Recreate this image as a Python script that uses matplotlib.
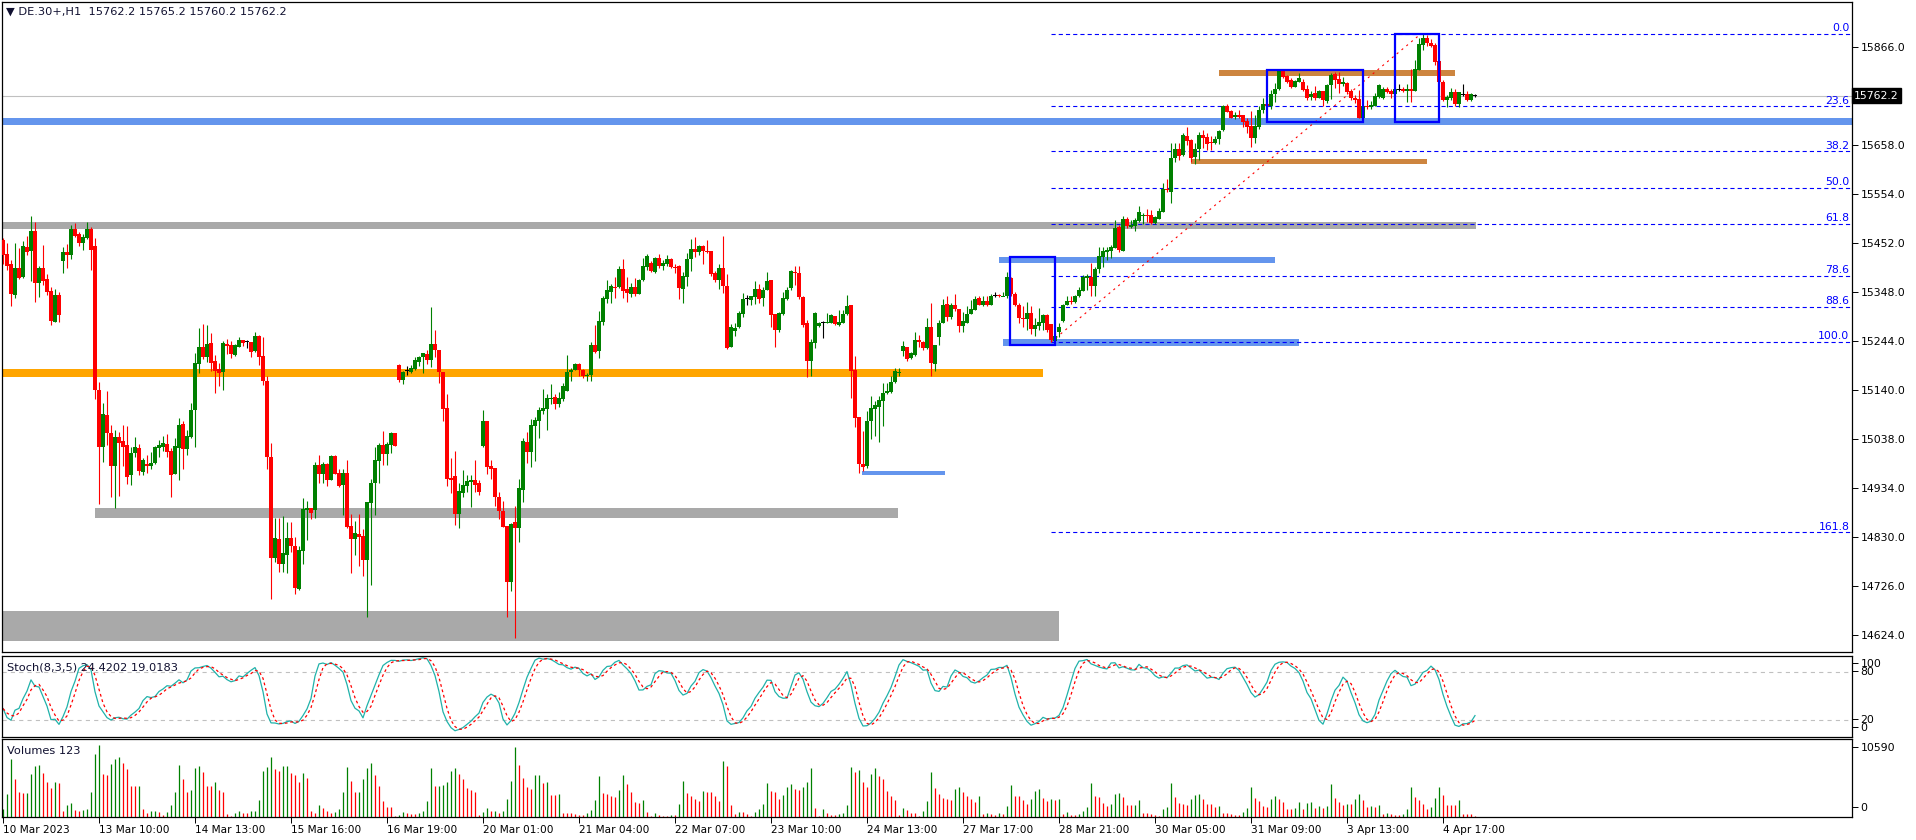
import numpy as np
import pandas as pd
import matplotlib
matplotlib.use("Agg")
import matplotlib.pyplot as plt
from matplotlib.patches import Rectangle
from matplotlib import transforms

plt.rcParams['font.family'] = ['DejaVu Sans']
plt.rcParams['font.size'] = 7.5
plt.rcParams['lines.scale_dashes'] = False

# DE.30+ H1 bars (one entry per hour bar)
opens = [
    15457, 15428, 15407, 15341, 15398, 15379, 15443, 15435, 15476, 15367,
    15398, 15375, 15350, 15285, 15341, 15412, 15432, 15426, 15481, 15470,
    15452, 15462, 15481, 15445, 15140, 15021, 15088, 15050, 14979, 15042,
    15033, 15024, 14960, 15007, 15019, 14968, 14984, 14981, 14986, 15019,
    15021, 15027, 15012, 14963, 15019, 15069, 15016, 15042, 15098, 15196,
    15231, 15211, 15240, 15202, 15185, 15179, 15238, 15236, 15214, 15231,
    15246, 15242, 15242, 15223, 15255, 15212, 15160, 15000, 14786, 14826,
    14772, 14793, 14828, 14811, 14720, 14801, 14887, 14891, 14886, 14982,
    14963, 14984, 14950, 15001, 14965, 14940, 14965, 14853, 14826, 14836,
    14832, 14782, 14902, 14944, 14991, 15024, 15005, 15024, 15050, 15194,
    15162, 15181, 15179, 15185, 15200, 15210, 15217, 15204, 15238, 15225,
    15179, 15102, 14955, 14959, 14879, 14923, 14938, 14946, 14950, 14944,
    15022, 15075, 14980, 14976, 14915, 14885, 14853, 14735, 14862, 14850,
    14930, 15031, 15010, 15065, 15075, 15096, 15100, 15122, 15126, 15111,
    15122, 15138, 15179, 15183, 15195, 15183, 15172, 15172, 15236, 15223,
    15284, 15333, 15348, 15360, 15358, 15396, 15354, 15343, 15358, 15343,
    15373, 15400, 15409, 15390, 15419, 15402, 15407, 15417, 15402, 15402,
    15354, 15379, 15417, 15438, 15432, 15445, 15434, 15434, 15388, 15373,
    15398, 15360, 15232, 15265, 15274, 15301, 15333, 15331, 15337, 15354,
    15335, 15352, 15373, 15302, 15267, 15302, 15332, 15355, 15390, 15388,
    15336, 15281, 15202, 15240, 15276, 15284, 15283, 15283, 15297, 15278,
    15283, 15300, 15320, 15183, 15084, 14985, 14980, 15074, 15100, 15105,
    15117, 15134, 15137, 15158, 15178, 15222, 15232, 15209, 15215, 15246,
    15242, 15230, 15273, 15196, 15253, 15281, 15322, 15295, 15320, 15312,
    15276, 15282, 15300, 15310, 15335, 15320, 15328, 15320, 15341, 15342,
    15338, 15338, 15378, 15343, 15320, 15293, 15291, 15303, 15270, 15276,
    15283, 15299, 15279, 15245, 15262, 15287, 15320, 15329, 15327, 15338,
    15350, 15376, 15380, 15361, 15395, 15422, 15433, 15435, 15440, 15484,
    15435, 15502, 15485, 15486, 15498, 15507, 15510, 15510, 15493, 15502,
    15517, 15566, 15559, 15631, 15650, 15637, 15677, 15668, 15633, 15650,
    15680, 15675, 15665, 15663, 15671, 15690, 15740, 15730, 15718, 15721,
    15721, 15709, 15699, 15673, 15695, 15732, 15744, 15740, 15765, 15776,
    15815, 15804, 15795, 15781, 15792, 15790, 15776, 15760, 15768, 15757,
    15771, 15750, 15785, 15808, 15797, 15787, 15788, 15771, 15758, 15755,
    15716, 15741, 15738, 15740, 15759, 15757, 15776, 15773, 15766, 15776,
    15777, 15773, 15776, 15771, 15816, 15869, 15885, 15874, 15869, 15835,
    15792, 15753, 15757, 15769, 15744, 15764, 15766, 15752, 15762.2]

highs = [
    15462, 15450, 15415, 15450, 15441, 15455, 15466, 15509, 15495, 15402,
    15447, 15386, 15357, 15354, 15348, 15443, 15449, 15490, 15493, 15474,
    15471, 15495, 15484, 15462, 15157, 15114, 15139, 15067, 15055, 15052,
    15067, 15064, 15021, 15041, 15026, 14996, 15003, 15010, 15022, 15035,
    15043, 15048, 15017, 15040, 15081, 15074, 15055, 15114, 15219, 15271,
    15280, 15278, 15260, 15214, 15198, 15245, 15248, 15245, 15238, 15253,
    15246, 15246, 15242, 15263, 15257, 15253, 15169, 15029, 14871, 14871,
    14875, 14862, 14862, 14831, 14812, 14912, 14906, 14891, 14989, 15003,
    14989, 14987, 15003, 15003, 14974, 14974, 14993, 14879, 14864, 14879,
    14847, 14904, 14953, 15021, 15029, 15054, 15031, 15052, 15050, 15195,
    15181, 15191, 15193, 15210, 15213, 15219, 15224, 15316, 15268, 15225,
    15179, 15132, 14996, 15012, 14944, 14972, 14961, 14961, 14993, 14950,
    15098, 15075, 14993, 14976, 14925, 14906, 14853, 14860, 14896, 14953,
    15039, 15052, 15079, 15083, 15105, 15143, 15132, 15153, 15132, 15136,
    15155, 15214, 15187, 15198, 15198, 15185, 15176, 15242, 15278, 15307,
    15339, 15373, 15364, 15379, 15402, 15417, 15379, 15366, 15377, 15375,
    15419, 15428, 15413, 15421, 15428, 15415, 15426, 15419, 15407, 15405,
    15390, 15430, 15459, 15464, 15447, 15447, 15457, 15434, 15392, 15407,
    15466, 15386, 15280, 15282, 15307, 15345, 15341, 15339, 15371, 15364,
    15359, 15390, 15373, 15302, 15306, 15347, 15359, 15393, 15402, 15402,
    15340, 15288, 15248, 15306, 15285, 15287, 15304, 15301, 15297, 15309,
    15309, 15341, 15320, 15212, 15084, 15054, 15096, 15128, 15118, 15128,
    15155, 15155, 15169, 15186, 15186, 15244, 15232, 15221, 15264, 15257,
    15244, 15292, 15324, 15236, 15288, 15332, 15340, 15325, 15343, 15312,
    15306, 15317, 15331, 15338, 15339, 15340, 15339, 15343, 15347, 15343,
    15348, 15390, 15380, 15348, 15325, 15317, 15326, 15317, 15292, 15313,
    15300, 15302, 15279, 15260, 15281, 15322, 15340, 15340, 15342, 15357,
    15383, 15386, 15408, 15401, 15442, 15442, 15442, 15447, 15500, 15489,
    15507, 15505, 15500, 15503, 15529, 15514, 15522, 15521, 15507, 15524,
    15578, 15586, 15662, 15663, 15662, 15683, 15695, 15670, 15662, 15686,
    15690, 15683, 15676, 15677, 15690, 15742, 15745, 15732, 15728, 15732,
    15721, 15714, 15730, 15721, 15740, 15757, 15746, 15774, 15788, 15816,
    15816, 15806, 15799, 15795, 15811, 15797, 15785, 15771, 15783, 15774,
    15773, 15787, 15809, 15813, 15813, 15801, 15792, 15776, 15764, 15774,
    15740, 15753, 15750, 15767, 15787, 15780, 15780, 15776, 15780, 15787,
    15780, 15787, 15818, 15837, 15885, 15893, 15891, 15881, 15873, 15835,
    15795, 15764, 15778, 15776, 15769, 15787, 15771, 15767, 15765.2]

lows = [
    15407, 15393, 15318, 15334, 15375, 15377, 15426, 15371, 15327, 15336,
    15362, 15341, 15278, 15285, 15285, 15388, 15398, 15417, 15464, 15445,
    15436, 15459, 15393, 15121, 14900, 14989, 15024, 14915, 14891, 14917,
    14979, 14942, 14940, 15000, 14961, 14960, 14966, 14973, 14985, 15000,
    15012, 15000, 14915, 14963, 14950, 14974, 15003, 15040, 15021, 15177,
    15205, 15200, 15181, 15135, 15149, 15140, 15217, 15209, 15213, 15231,
    15233, 15230, 15211, 15221, 15194, 15151, 14974, 14699, 14778, 14757,
    14757, 14753, 14799, 14710, 14719, 14772, 14824, 14867, 14871, 14944,
    14944, 14938, 14950, 14963, 14936, 14877, 14850, 14755, 14791, 14769,
    14748, 14662, 14729, 14877, 14944, 14982, 14982, 15008, 15023, 15157,
    15153, 15172, 15177, 15183, 15191, 15176, 15195, 15190, 15211, 15155,
    15074, 14938, 14923, 14855, 14850, 14915, 14925, 14894, 14925, 14919,
    15020, 14963, 14953, 14896, 14869, 14852, 14662, 14715, 14617, 14820,
    14903, 14986, 14977, 14991, 15039, 15090, 15055, 15111, 15100, 15105,
    15117, 15138, 15160, 15183, 15170, 15166, 15160, 15160, 15219, 15209,
    15278, 15324, 15324, 15335, 15356, 15335, 15326, 15337, 15339, 15343,
    15371, 15394, 15390, 15388, 15398, 15394, 15402, 15398, 15388, 15333,
    15324, 15360, 15392, 15421, 15426, 15407, 15430, 15381, 15369, 15354,
    15345, 15227, 15232, 15255, 15271, 15295, 15320, 15320, 15322, 15324,
    15317, 15352, 15274, 15232, 15264, 15299, 15331, 15352, 15362, 15332,
    15274, 15167, 15170, 15230, 15274, 15251, 15281, 15281, 15278, 15276,
    15281, 15298, 15124, 15063, 14966, 14970, 14975, 15037, 15044, 15031,
    15065, 15131, 15135, 15156, 15170, 15213, 15202, 15207, 15213, 15232,
    15225, 15228, 15169, 15181, 15236, 15281, 15287, 15290, 15308, 15264,
    15262, 15282, 15300, 15309, 15319, 15318, 15317, 15319, 15336, 15337,
    15338, 15335, 15338, 15318, 15283, 15274, 15267, 15258, 15255, 15267,
    15267, 15264, 15242, 15243, 15253, 15285, 15320, 15322, 15325, 15336,
    15350, 15352, 15338, 15338, 15388, 15401, 15416, 15419, 15440, 15431,
    15435, 15482, 15483, 15477, 15496, 15491, 15496, 15491, 15491, 15501,
    15517, 15559, 15536, 15621, 15626, 15635, 15658, 15623, 15617, 15626,
    15652, 15647, 15647, 15660, 15660, 15688, 15728, 15714, 15712, 15714,
    15697, 15684, 15654, 15662, 15692, 15725, 15739, 15734, 15748, 15774,
    15799, 15788, 15778, 15780, 15790, 15771, 15754, 15754, 15754, 15757,
    15740, 15746, 15755, 15778, 15767, 15783, 15766, 15753, 15746, 15716,
    15714, 15735, 15735, 15740, 15757, 15755, 15767, 15758, 15766, 15771,
    15769, 15749, 15749, 15771, 15816, 15859, 15867, 15866, 15826, 15788,
    15750, 15738, 15753, 15740, 15739, 15762, 15751, 15750, 15760.2]

closes = [
    15426, 15403, 15343, 15398, 15377, 15445, 15433, 15476, 15367, 15398,
    15371, 15348, 15287, 15341, 15299, 15432, 15426, 15481, 15466, 15452,
    15464, 15481, 15436, 15140, 15021, 15090, 15050, 14979, 15042, 15029,
    15021, 14957, 15008, 15021, 14970, 14993, 14981, 14986, 15021, 15024,
    15028, 15009, 14961, 15022, 15067, 15016, 15043, 15098, 15198, 15231,
    15211, 15238, 15198, 15181, 15177, 15240, 15233, 15217, 15236, 15246,
    15240, 15242, 15221, 15255, 15211, 15160, 14998, 14786, 14828, 14774,
    14796, 14828, 14810, 14723, 14803, 14889, 14891, 14881, 14982, 14963,
    14984, 14950, 15001, 14963, 14938, 14965, 14851, 14826, 14838, 14831,
    14782, 14904, 14944, 14993, 15024, 15005, 15026, 15050, 15023, 15162,
    15179, 15181, 15187, 15204, 15210, 15219, 15204, 15238, 15224, 15179,
    15100, 14953, 14950, 14879, 14927, 14940, 14948, 14950, 14940, 14925,
    15075, 14978, 14974, 14915, 14884, 14852, 14734, 14858, 14850, 14934,
    15033, 15010, 15067, 15077, 15098, 15102, 15124, 15124, 15111, 15124,
    15149, 15179, 15183, 15195, 15183, 15170, 15174, 15236, 15221, 15286,
    15335, 15352, 15360, 15358, 15396, 15350, 15345, 15358, 15343, 15373,
    15402, 15424, 15392, 15419, 15402, 15409, 15417, 15400, 15400, 15356,
    15381, 15417, 15438, 15432, 15445, 15434, 15432, 15386, 15373, 15398,
    15360, 15230, 15274, 15271, 15303, 15333, 15333, 15339, 15354, 15333,
    15352, 15371, 15299, 15267, 15304, 15335, 15352, 15392, 15388, 15336,
    15278, 15202, 15242, 15304, 15283, 15284, 15285, 15298, 15280, 15285,
    15302, 15317, 15181, 15082, 14985, 14978, 15075, 15103, 15109, 15119,
    15134, 15139, 15158, 15180, 15180, 15233, 15206, 15219, 15246, 15241,
    15230, 15273, 15198, 15236, 15283, 15320, 15295, 15320, 15312, 15276,
    15286, 15302, 15312, 15333, 15321, 15329, 15320, 15340, 15341, 15338,
    15340, 15379, 15343, 15320, 15293, 15291, 15303, 15269, 15278, 15285,
    15299, 15267, 15247, 15255, 15274, 15320, 15329, 15327, 15339, 15352,
    15380, 15381, 15361, 15395, 15424, 15434, 15436, 15442, 15482, 15436,
    15502, 15486, 15488, 15500, 15516, 15510, 15508, 15493, 15505, 15519,
    15564, 15562, 15631, 15650, 15635, 15679, 15666, 15630, 15650, 15679,
    15673, 15661, 15663, 15671, 15688, 15740, 15728, 15716, 15721, 15718,
    15707, 15697, 15673, 15699, 15732, 15744, 15740, 15765, 15776, 15815,
    15802, 15792, 15780, 15793, 15800, 15774, 15757, 15766, 15757, 15771,
    15752, 15785, 15806, 15795, 15787, 15790, 15769, 15757, 15753, 15716,
    15740, 15738, 15742, 15761, 15785, 15776, 15769, 15766, 15776, 15776,
    15771, 15776, 15771, 15818, 15871, 15885, 15874, 15867, 15834, 15792,
    15753, 15760, 15769, 15744, 15769, 15764, 15753, 15766, 15762.2]

volumes = [
    1240, 3330, 8600, 5520, 3730, 3500, 3580, 6260, 7550, 7620,
    6460, 5220, 4320, 5220, 4970, 890, 1790, 2090, 1040, 940,
    1040, 1190, 3630, 9240, 10590, 6260, 6200, 7750, 8500, 8800,
    7900, 7010, 4620, 4570, 4620, 1190, 650, 890, 900, 750,
    300, 750, 1790, 3630, 7600, 5520, 3630, 4030, 7160, 7460,
    6610, 4620, 4500, 5220, 3980, 3730, 450, 150, 650, 890,
    650, 600, 890, 900, 2530, 6710, 7310, 8800, 7010, 6710,
    7460, 7500, 6460, 6110, 5220, 6460, 5810, 890, 600, 1790,
    1340, 890, 600, 750, 1140, 3730, 7310, 5370, 3630, 3730,
    5520, 7160, 7900, 6110, 4620, 2390, 1490, 1450, 150, 300,
    750, 600, 450, 430, 650, 890, 2390, 7160, 4520, 4620,
    4660, 5220, 6710, 7160, 6260, 5520, 4220, 3930, 3730, 300,
    750, 1340, 890, 900, 650, 890, 2630, 5370, 10290, 7600,
    5810, 4470, 4170, 6110, 6150, 5070, 5220, 3280, 3250, 3430,
    600, 600, 600, 450, 300, 300, 600, 1040, 2530, 5960,
    3580, 3430, 3130, 2980, 4030, 6110, 4920, 3730, 2240, 2090,
    2530, 750, 150, 600, 300, 150, 150, 300, 300, 1940,
    5370, 3580, 3130, 2680, 2390, 3880, 3730, 3700, 3130, 2390,
    8200, 7460, 1790, 450, 750, 730, 450, 150, 750, 1190,
    1940, 5070, 3880, 3730, 2680, 3280, 4470, 4920, 4170, 4030,
    4470, 5220, 7160, 1340, 150, 1190, 600, 300, 300, 450,
    600, 1790, 7310, 6560, 6860, 5220, 4470, 6260, 7160, 5960,
    5620, 3880, 3130, 2530, 300, 1340, 1040, 600, 600, 150,
    890, 2390, 6560, 4320, 3430, 2830, 2680, 2530, 4170, 4470,
    3730, 3130, 2680, 2240, 3130, 450, 600, 450, 300, 650,
    450, 1640, 4770, 3130, 3100, 2530, 1940, 2680, 3880, 4170,
    2830, 2390, 2680, 2530, 2680, 450, 750, 300, 300, 450,
    890, 1490, 5070, 3130, 2980, 2090, 1640, 1940, 3430, 3580,
    2980, 1790, 1750, 1790, 2530, 600, 600, 450, 300, 150,
    1190, 1490, 5070, 2980, 2090, 1940, 1790, 2680, 3280, 3430,
    2680, 1940, 1900, 1490, 1640, 600, 600, 450, 300, 300,
    750, 1340, 4470, 2830, 2390, 1640, 1490, 2680, 3130, 2680,
    2240, 1190, 1190, 1340, 2240, 1190, 2090, 2240, 1340, 1640,
    1340, 1640, 4920, 2830, 2240, 1790, 1940, 1940, 2680, 3430,
    2530, 1490, 1640, 1490, 1790, 450, 600, 450, 300, 300,
    450, 1190, 4470, 2980, 2530, 1940, 1190, 1490, 2830, 4470,
    3280, 1790, 1790, 1790, 2530, 450, 450, 450, 123]

x_label_bars = [0, 24, 48, 72, 96, 120, 144, 168, 192, 216, 240, 264, 288, 312, 336, 360]
x_labels = ['10 Mar 2023', '13 Mar 10:00', '14 Mar 13:00', '15 Mar 16:00', '16 Mar 19:00',
            '20 Mar 01:00', '21 Mar 04:00', '22 Mar 07:00', '23 Mar 10:00', '24 Mar 13:00',
            '27 Mar 17:00', '28 Mar 21:00', '30 Mar 05:00', '31 Mar 09:00', '3 Apr 13:00',
            '4 Apr 17:00']
price_ticks = [15866, 15658, 15554, 15452, 15348, 15244, 15140, 15038, 14934, 14830, 14726, 14624]
last_price = 15762.2

# fibonacci retracement anchors (bar, price)
fib_low = (262, 15242.0)
fib_high = (354.5, 15893.0)
fib_levels = [0.0, 23.6, 38.2, 50.0, 61.8, 78.6, 88.6, 100.0, 161.8]

# drawn objects: (bar from, bar to, price low, price high, colour)
bands = [
    (-1, 368.3, 15480, 15495, '#a9a9a9'),
    (-1, 260, 15168, 15185, '#ffa500'),
    (23, 223.8, 14870, 14891, '#a9a9a9'),
    (-1, 264, 14610, 14674, '#a9a9a9'),
    (214.8, 235.5, 14961, 14969, '#6495ed'),
    (249, 318, 15408, 15421, '#6495ed'),
    (250, 324, 15233, 15248, '#6495ed'),
    (-1, 470, 15701, 15714, '#6495ed'),
    (304, 363, 15804, 15817, '#cd853f'),
    (297, 356, 15618, 15628, '#cd853f'),
]
frames = [
    (251.8, 263.1, 15236, 15421),
    (315.9, 340.1, 15707, 15816),
    (347.9, 359.1, 15707, 15892),
]

W, H = 1916, 840


def box(x0, y0, x1, y1):
    return [x0 / W, 1 - y1 / H, (x1 - x0) / W, (y1 - y0) / H]


fig = plt.figure(figsize=(W / 100, H / 100), dpi=100)
ax = fig.add_axes(box(2, 2, 1852, 652))
ax_st = fig.add_axes(box(2, 655.5, 1852, 736.5))
ax_v = fig.add_axes(box(2, 738.5, 1852, 817))

xmin, xmax = -0.25, 462.25
pmin, pmax = 14587.1, 15960.0
ppx = (pmax - pmin) / 650.0

o = np.array(opens, dtype=float)
c = np.array(closes, dtype=float)
h = np.maximum(np.array(highs, dtype=float), np.maximum(o, c))
l = np.minimum(np.array(lows, dtype=float), np.minimum(o, c))
n = len(c)
x = np.arange(n)

# --- main panel ---
for b0, b1, p0, p1, col in bands:
    ax.add_patch(Rectangle((b0, p0), b1 - b0, p1 - p0, facecolor=col, edgecolor='none', zorder=1))

ax.axhline(last_price, color='#c0c0c0', lw=0.8, zorder=1.5)

blend = transforms.blended_transform_factory(ax.transAxes, ax.transData)
rng = fib_high[1] - fib_low[1]
for lv in fib_levels:
    p = fib_high[1] - rng * lv / 100.0
    ax.plot([fib_low[0], xmax], [p, p], color='#0000ff', lw=0.8,
            linestyle=(0, (3, 2.2)), zorder=2)
    ax.text(0.9985, p + 0.8 * ppx, f'{lv:.1f}', transform=blend,
            ha='right', va='bottom', color='#0000ff', fontsize=7.8)
ax.plot([fib_low[0], fib_high[0]], [fib_low[1], fib_high[1]], color='#ff0000', lw=0.8,
        linestyle=(0, (1.5, 3)), zorder=2)

colors = np.where(c > o, '#008000', np.where(c < o, '#ff0000', '#000000'))
ax.vlines(x, l, h, colors=colors, linewidth=0.8, zorder=3)
body_h = np.maximum(np.abs(c - o), ppx)
body_b = np.where(np.abs(c - o) < ppx, np.minimum(o, c) - ppx / 2, np.minimum(o, c))
ax.bar(x, body_h, bottom=body_b, width=0.78, color=colors, linewidth=0, zorder=4)

for b0, b1, p0, p1 in frames:
    ax.add_patch(Rectangle((b0, p0), b1 - b0, p1 - p0, fill=False, edgecolor='#0000ff', lw=1.6, zorder=5))

ax.set_xlim(xmin, xmax)
ax.set_ylim(pmin, pmax)
ax.set_xticks([])
ax.yaxis.tick_right()
ax.set_yticks(price_ticks)
ax.set_yticklabels([f'{p:.1f}' for p in price_ticks])
ax.tick_params(axis='y', direction='out', length=4, width=0.7, pad=2, labelsize=7.8)
ax.text(1.0012, last_price, f'{last_price:.1f}', transform=blend,
        ha='left', va='center', color='white', fontsize=7.8,
        bbox=dict(boxstyle='square,pad=0.2', fc='black', ec='black'))

# --- stochastic (8,3,5) computed from the bars ---
s = pd.DataFrame({'h': h, 'l': l, 'c': c})
ll = s['l'].rolling(8, min_periods=1).min()
hh = s['h'].rolling(8, min_periods=1).max()
k = 100 * (s['c'] - ll).rolling(5, min_periods=1).sum() / (hh - ll).rolling(5, min_periods=1).sum()
d = k.rolling(3, min_periods=1).mean()
ax_st.axhline(80, color='#c0c0c0', lw=0.8, linestyle=(0, (3, 3)))
ax_st.axhline(20, color='#c0c0c0', lw=0.8, linestyle=(0, (3, 3)))
ax_st.plot(x, k, color='#20b2aa', lw=0.9)
ax_st.plot(x, d, color='#ff0000', lw=0.9, linestyle=(0, (2, 2)))
ax_st.set_xlim(xmin, xmax)
ax_st.set_ylim(0, 100)
ax_st.set_xticks([])
ax_st.yaxis.tick_right()
ax_st.set_yticks([90.7, 80.9, 21.6, 11.7])
ax_st.set_yticklabels(['100', '80', '20', '0'])
ax_st.tick_params(axis='y', direction='out', length=4, width=0.7, pad=2, labelsize=7.8)

# --- volumes ---
v = np.array(volumes, dtype=float)
vcol = ['#008000' if i == 0 or v[i] > v[i - 1] else '#ff0000' for i in range(n)]
ax_v.vlines(x, 0, v, colors=vcol, linewidth=0.9)
ax_v.set_xlim(xmin, xmax)
ax_v.set_ylim(0, 11550)
ax_v.yaxis.tick_right()
ax_v.set_yticks([10300, 1400])
ax_v.set_yticklabels(['10590', '0'])
ax_v.tick_params(axis='y', direction='out', length=4, width=0.7, pad=2, labelsize=7.8)
ax_v.set_xticks(x_label_bars)
ax_v.set_xticklabels(x_labels, ha='left')
ax_v.tick_params(axis='x', direction='out', length=4, width=0.7, pad=2, labelsize=7.6)

for a in (ax, ax_st, ax_v):
    for sp in a.spines.values():
        sp.set_color('black')
        sp.set_linewidth(0.9)

fig.text(6 / W, 1 - 12 / H, '\u25bc DE.30+,H1  15762.2 15765.2 15760.2 15762.2',
         ha='left', va='center', fontsize=8.2, color='#101030')
fig.text(7 / W, 1 - 667 / H, 'Stoch(8,3,5) 24.4202 19.0183', ha='left', va='center', fontsize=8.2, color='#101030')
fig.text(7 / W, 1 - 751 / H, 'Volumes 123', ha='left', va='center', fontsize=8.2, color='#101030')

fig.savefig('out.png', dpi=100)
